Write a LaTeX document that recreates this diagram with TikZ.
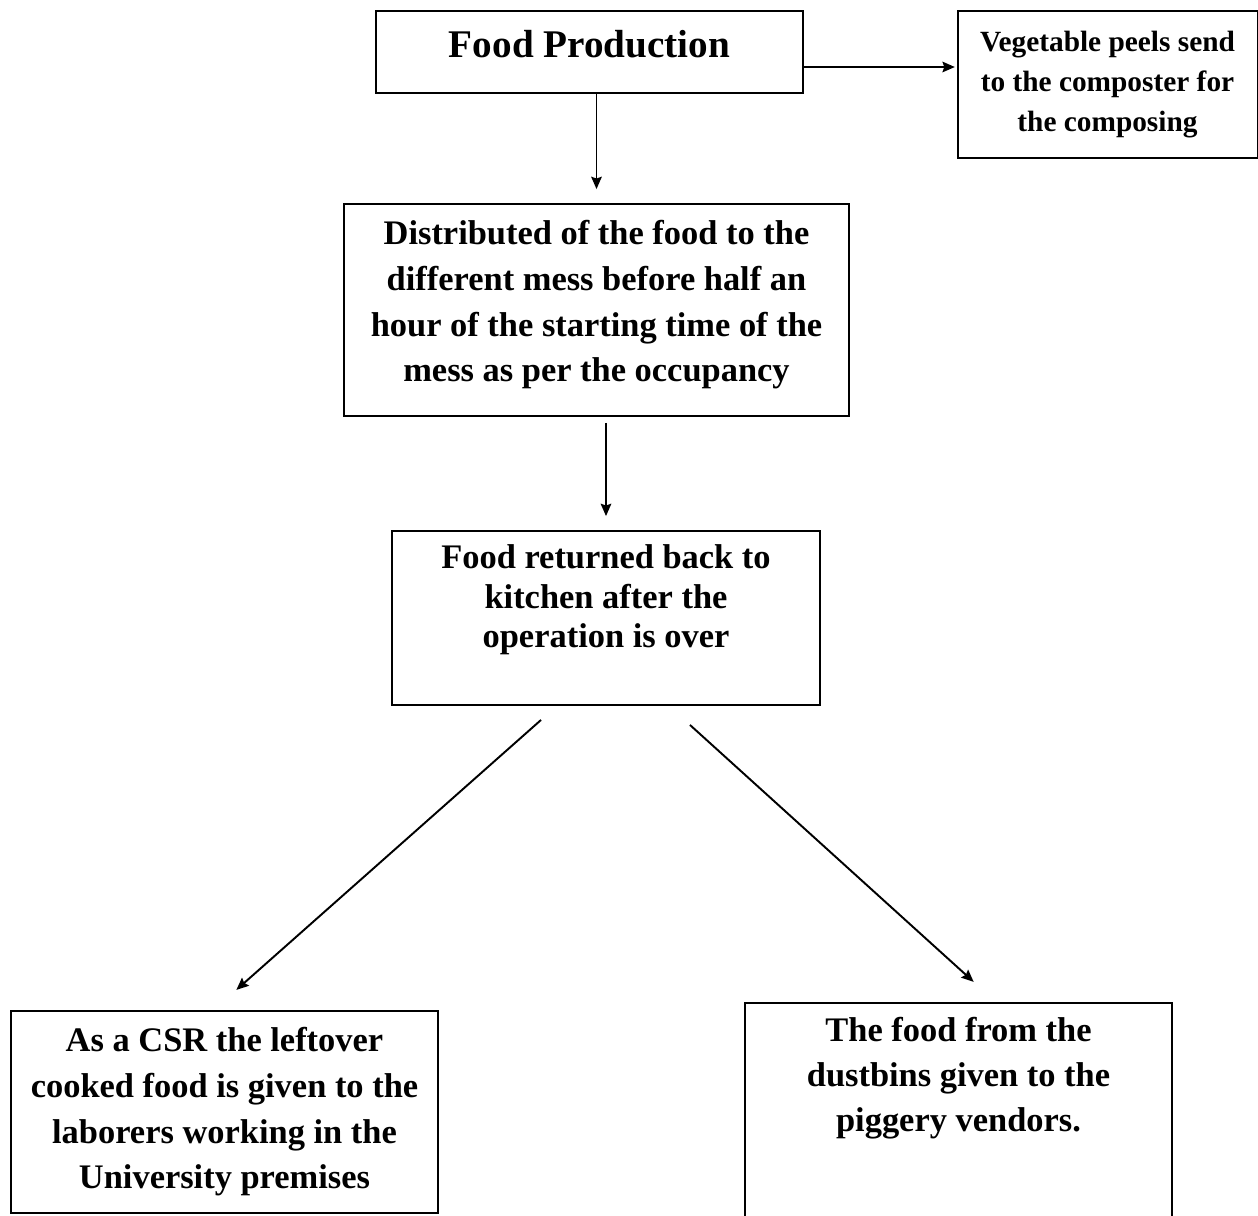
\documentclass[tikz,border=0pt]{standalone}
\usepackage{fontspec}
\setmainfont{Liberation Serif}
\usetikzlibrary{arrows.meta}
\usetikzlibrary{positioning}
\usetikzlibrary{calc}

\begin{document}
\begin{tikzpicture}[->,>={Stealth[length=7pt,width=6pt,inset=1pt]},shorten >=1pt,x=0.02cm,y=-0.02cm,
					line width=1.1pt]
					\tikzstyle{box}=[draw,rectangle,inner sep=0pt,align=center,line width=1.1pt,
					font=\fontsize{19.6}{26}\selectfont\bfseries]
					
					\useasboundingbox (0,0) rectangle (1258,1215);
					\clip (0,0) rectangle (1258,1215);
					
					\node[box,minimum width=8.54cm,minimum height=1.64cm,text depth=9pt,
					font=\fontsize{22.3}{27}\selectfont\bfseries]   (prod)  at (589.5,52)  {Food Production};
					\node[box,minimum width=6cm,minimum height=2.94cm,
					font=\fontsize{16.7}{22.7}\selectfont\bfseries]  (peels) at (1107.5,84.5) {Vegetable peels send\\ to the composter for\\ the composing};
					\node[box,minimum width=10.1cm,minimum height=4.24cm,text depth=10pt]  (dist)  at (596.5,310) {Distributed of the food to the\\ different mess before half an\\ hour of the starting time of the\\ mess as per the occupancy};
					\node[box,minimum width=8.56cm,minimum height=3.48cm,
					font=\fontsize{19.6}{22.7}\selectfont\bfseries]  (ret)   at (606,618)   {Food returned back to\\ kitchen after the\\ operation is over\\[-4.6pt] \strut};
					\node[box,minimum width=8.54cm,minimum height=4.04cm]  (csr)   at (224.5,1112) {As a CSR the leftover\\ cooked food is given to the\\ laborers working in the\\ University premises};
					\node[box,minimum width=8.54cm,minimum height=4.68cm,
					font=\fontsize{19.6}{25.5}\selectfont\bfseries]  (dust)  at (958.5,1120) {The food from the\\ dustbins given to the\\ piggery vendors.\\ \strut\\[-6.8pt] \strut};
					
					\coordinate (p1) at ([yshift=-0.3cm]prod.east);
					\coordinate (r1) at ([xshift=-1.3cm,yshift=-0.28cm]ret.south);
					\coordinate (r2) at ([xshift=1.68cm,yshift=-0.38cm]ret.south);
					\coordinate (c1) at ([xshift=0.21cm,yshift=0.38cm]csr.north);
					\coordinate (d1) at ([xshift=0.33cm,yshift=0.38cm]dust.north);
					
					\path (prod.south -| dist.north) edge [shorten >=0.28cm]  (dist.north)
					(p1)                  edge               (p1 -| peels.west)
					(ret.north |- dist.south) edge [shorten <=0.12cm,shorten >=0.28cm] (ret.north)
					(r1)                  edge               (c1)
					(r2)                  edge               (d1)
					;
					\end{tikzpicture}
\end{document}
